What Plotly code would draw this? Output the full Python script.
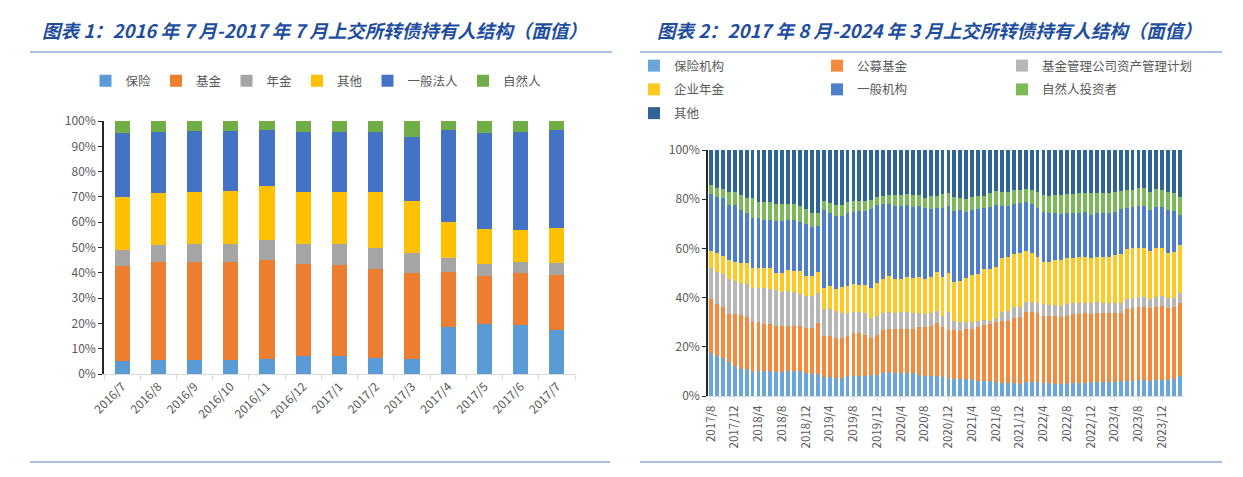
import plotly.graph_objects as go

# The page body adds an 8px margin, so the figure is laid out in a
# slightly smaller box and positions are converted from window pixels.
OFF = 8
W, H = 1243 - 2 * OFF, 477 - 2 * OFF


def px(x):
    return (x - OFF) / W


def py(y):
    return 1 - (y - OFF) / H


# ---------------- Left chart data (share of face value, %) ----------------
left_cats = ["2016/7", "2016/8", "2016/9", "2016/10", "2016/11", "2016/12",
             "2017/1", "2017/2", "2017/3", "2017/4", "2017/5", "2017/6", "2017/7"]
left_insurance = [5.3, 5.7, 5.6, 5.6, 6.0, 7.0, 7.3, 6.5, 6.0, 18.5, 19.7, 19.3, 17.3]
left_fund = [37.2, 38.5, 38.7, 38.6, 39.0, 36.5, 35.7, 35.2, 34.0, 21.7, 18.9, 20.5, 21.7]
left_annuity = [6.7, 6.6, 7.1, 7.2, 7.8, 7.9, 8.2, 8.1, 7.8, 5.8, 5.0, 4.4, 4.8]
left_other = [20.8, 20.7, 20.6, 21.1, 21.7, 20.6, 20.8, 22.0, 20.6, 14.0, 13.9, 12.6, 13.8]
left_corporate = [25.2, 24.0, 24.0, 23.5, 22.0, 23.7, 23.6, 23.8, 25.2, 36.3, 37.7, 38.8, 38.7]
left_natural = [4.8, 4.5, 4.0, 4.0, 3.5, 4.3, 4.4, 4.4, 6.4, 3.7, 4.8, 4.4, 3.7]

# ---------------- Right chart data (share of face value, %) ----------------
right_cats = [
    "2017/8", "2017/9", "2017/10", "2017/11", "2017/12",
    "2018/1", "2018/2", "2018/3", "2018/4", "2018/5", "2018/6", "2018/7", "2018/8", "2018/9", "2018/10", "2018/11", "2018/12",
    "2019/1", "2019/2", "2019/3", "2019/4", "2019/5", "2019/6", "2019/7", "2019/8", "2019/9", "2019/10", "2019/11", "2019/12",
    "2020/1", "2020/2", "2020/3", "2020/4", "2020/5", "2020/6", "2020/7", "2020/8", "2020/9", "2020/10", "2020/11", "2020/12",
    "2021/1", "2021/2", "2021/3", "2021/4", "2021/5", "2021/6", "2021/7", "2021/8", "2021/9", "2021/10", "2021/11", "2021/12",
    "2022/1", "2022/2", "2022/3", "2022/4", "2022/5", "2022/6", "2022/7", "2022/8", "2022/9", "2022/10", "2022/11", "2022/12",
    "2023/1", "2023/2", "2023/3", "2023/4", "2023/5", "2023/6", "2023/7", "2023/8", "2023/9", "2023/10", "2023/11", "2023/12",
    "2024/1", "2024/2", "2024/3",
]
right_tick_labels = right_cats[::4]

right_insurance = [17.6, 16.3, 15.6, 14.0, 12.2, 11.0, 10.9, 9.9, 10.0, 10.0,
                   10.0, 9.9, 9.6, 10.2, 10.3, 10.0, 9.2, 8.9, 8.8, 7.9,
                   7.6, 7.5, 7.5, 8.0, 8.0, 8.2, 8.1, 8.4, 8.7, 9.2,
                   9.8, 9.5, 9.3, 9.3, 9.2, 8.5, 8.3, 8.3, 8.3, 7.7,
                   7.3, 7.0, 6.8, 6.8, 6.5, 6.2, 6.1, 6.0, 5.8, 5.4,
                   5.1, 5.1, 5.0, 5.8, 5.6, 5.6, 5.1, 5.1, 5.0, 5.0,
                   5.1, 5.3, 5.3, 5.4, 5.6, 5.6, 5.6, 5.6, 5.6, 6.0,
                   6.0, 6.0, 6.5, 6.5, 6.2, 6.5, 6.5, 6.5, 6.9, 8.1]
right_public_fund = [21.7, 21.0, 20.7, 19.5, 21.1, 21.8, 21.1, 20.1, 20.0, 19.4,
                     19.4, 18.7, 18.7, 18.4, 18.3, 18.5, 18.3, 18.6, 20.9, 16.6,
                     16.8, 15.9, 15.9, 16.3, 17.5, 17.3, 16.8, 15.3, 16.0, 17.5,
                     17.6, 17.9, 18.1, 18.1, 17.9, 19.5, 19.7, 20.3, 21.4, 20.5,
                     19.5, 19.8, 19.8, 20.4, 20.7, 21.7, 22.8, 23.1, 24.4, 25.1,
                     25.4, 26.5, 27.2, 28.2, 28.7, 28.0, 27.6, 27.6, 27.7, 27.2,
                     27.6, 27.9, 28.0, 28.5, 27.6, 28.3, 28.0, 28.0, 28.0, 27.9,
                     29.2, 29.9, 29.8, 29.8, 29.7, 29.8, 30.1, 29.4, 29.1, 29.8]
right_am_plan = [12.7, 13.2, 13.2, 13.9, 13.4, 13.2, 13.5, 14.0, 14.0, 14.6,
                 14.2, 14.6, 14.1, 14.2, 13.8, 13.0, 13.3, 13.2, 12.0, 10.9,
                 10.8, 11.0, 10.5, 9.6, 8.8, 8.6, 8.7, 8.0, 7.8, 6.9,
                 6.6, 6.5, 6.6, 6.7, 6.6, 5.6, 5.2, 5.0, 4.9, 4.3,
                 7.3, 3.7, 3.3, 3.0, 3.0, 2.6, 2.0, 1.4, 1.4, 3.8,
                 4.1, 4.4, 4.1, 4.3, 4.0, 4.3, 4.6, 4.3, 4.3, 4.4,
                 4.6, 4.5, 4.4, 4.0, 4.5, 4.4, 4.1, 4.1, 4.3, 4.0,
                 4.1, 4.1, 4.1, 3.8, 3.5, 4.1, 4.1, 3.8, 4.0, 3.8]
right_annuity = [7.0, 7.5, 7.5, 7.9, 7.6, 8.0, 8.5, 8.0, 8.0, 8.0,
                 8.4, 6.9, 7.5, 8.4, 8.6, 9.5, 8.0, 8.1, 8.8, 8.5,
                 9.7, 9.1, 10.3, 10.7, 11.2, 11.2, 11.4, 12.3, 13.3, 13.8,
                 14.8, 13.5, 13.6, 14.1, 14.4, 14.9, 14.2, 14.9, 15.8, 15.7,
                 15.8, 16.0, 16.8, 17.9, 18.9, 19.0, 20.7, 21.0, 21.0, 21.9,
                 22.0, 21.6, 21.7, 20.6, 19.7, 18.7, 17.3, 17.6, 18.3, 18.7,
                 18.7, 18.5, 18.7, 18.7, 18.3, 18.3, 18.9, 18.9, 19.4, 19.8,
                 20.3, 20.0, 19.9, 20.2, 19.5, 19.9, 19.6, 18.6, 18.4, 19.7]
right_general = [23.0, 23.0, 23.5, 22.5, 23.2, 21.6, 20.5, 20.5, 20.3, 19.4,
                 19.5, 20.9, 21.1, 20.3, 20.4, 19.9, 21.2, 19.8, 18.7, 31.7,
                 29.4, 29.8, 29.1, 29.7, 29.5, 29.8, 30.2, 32.0, 32.0, 30.5,
                 29.2, 30.0, 29.5, 29.3, 28.9, 28.7, 28.9, 27.5, 25.9, 28.4,
                 27.5, 28.7, 28.8, 26.6, 26.5, 26.4, 24.7, 25.5, 25.0, 21.2,
                 20.8, 20.4, 20.3, 20.1, 20.0, 19.7, 20.3, 19.7, 19.0, 18.7,
                 18.3, 18.1, 18.1, 18.1, 17.7, 17.9, 17.9, 17.9, 17.6, 18.2,
                 17.0, 17.0, 17.1, 17.1, 16.7, 16.7, 16.7, 17.3, 16.9, 12.2]
right_natural = [3.6, 3.7, 3.5, 5.2, 5.5, 6.1, 6.1, 8.1, 6.7, 7.5,
                 7.5, 7.0, 7.0, 6.5, 6.6, 6.5, 5.9, 5.7, 5.1, 3.7,
                 4.0, 4.3, 4.3, 4.4, 4.3, 4.2, 4.1, 3.7, 3.2, 3.4,
                 3.6, 4.3, 4.6, 4.5, 4.6, 4.4, 4.2, 5.3, 5.1, 5.5,
                 5.3, 5.7, 5.1, 5.4, 5.4, 5.5, 5.1, 5.7, 5.7, 5.6,
                 5.6, 5.7, 5.4, 5.0, 5.7, 6.5, 6.8, 7.1, 7.4, 7.7,
                 7.8, 7.8, 7.9, 8.0, 8.7, 7.9, 7.9, 7.9, 8.1, 7.6,
                 7.1, 6.7, 7.0, 7.0, 7.2, 7.1, 6.7, 7.2, 7.4, 7.2]
right_other = [14.4, 15.3, 16.0, 17.0, 17.0, 18.3, 19.4, 19.4, 21.0, 21.1,
               21.0, 22.0, 22.0, 22.0, 22.0, 22.6, 24.1, 25.7, 25.7, 20.7,
               21.7, 22.4, 22.4, 21.3, 20.7, 20.7, 20.7, 20.3, 19.0, 18.7,
               18.4, 18.3, 18.3, 18.0, 18.4, 18.4, 19.5, 18.7, 18.6, 17.9,
               17.3, 19.1, 19.4, 19.9, 19.0, 18.6, 18.6, 17.3, 16.7, 17.0,
               17.0, 16.3, 16.3, 16.0, 16.3, 17.2, 18.3, 18.6, 18.3, 18.3,
               17.9, 17.9, 17.6, 17.3, 17.6, 17.6, 17.6, 17.6, 17.0, 16.5,
               16.3, 16.3, 15.6, 15.6, 17.2, 15.9, 16.3, 17.2, 17.3, 19.2]

left_series = [
    ("保险", left_insurance, "#5B9BD5"),
    ("基金", left_fund, "#ED7D31"),
    ("年金", left_annuity, "#A5A5A5"),
    ("其他", left_other, "#FFC000"),
    ("一般法人", left_corporate, "#4472C4"),
    ("自然人", left_natural, "#70AD47"),
]
right_series = [
    ("保险机构", right_insurance, "#6AA6DC", "legend2"),
    ("公募基金", right_public_fund, "#F5893C", "legend3"),
    ("基金管理公司资产管理计划", right_am_plan, "#B7B7B7", "legend4"),
    ("企业年金", right_annuity, "#FFC924", "legend2"),
    ("一般机构", right_general, "#4F7ECC", "legend3"),
    ("自然人投资者", right_natural, "#7DB958", "legend4"),
    ("其他", right_other, "#2F6497", "legend2"),
]

FONT = "Noto Sans CJK SC, Microsoft YaHei, sans-serif"
GRAY = "#595959"

fig = go.Figure()
for name, vals, color in left_series:
    fig.add_trace(go.Bar(x=left_cats, y=vals, name=name, marker_color=color,
                         marker_line_width=0, width=0.42, xaxis="x", yaxis="y",
                         legend="legend"))
for name, vals, color, leg in right_series:
    fig.add_trace(go.Bar(x=right_cats, y=vals, name=name, marker_color=color,
                         marker_line_width=0, width=0.66, xaxis="x2", yaxis="y2",
                         legend=leg, legendgroup=name))

tickfont = dict(family=FONT, size=12, color=GRAY)
legfont = dict(family=FONT, size=12.5, color=GRAY)

fig.update_layout(
    width=W, height=H,
    margin=dict(l=0, r=0, t=0, b=0, autoexpand=False),
    paper_bgcolor="white", plot_bgcolor="white",
    barmode="stack",
    font=dict(family=FONT, color=GRAY),
    xaxis=dict(domain=[px(104), px(575)], type="category", showgrid=False,
               showline=True, linecolor="#D9D9D9", linewidth=1,
               ticks="outside", tickson="boundaries", ticklen=5, tickcolor="#D9D9D9",
               tickangle=-45, tickfont=tickfont, anchor="y"),
    yaxis=dict(domain=[py(374), py(121)], range=[0, 100], dtick=10,
               ticksuffix="%", showgrid=False, showline=True, linecolor="#262626",
               linewidth=1.5, ticks="outside", ticklen=4, tickcolor="#262626",
               tickfont=tickfont, anchor="x", zeroline=False),
    xaxis2=dict(domain=[px(708), px(1183)], type="category", showgrid=False,
                showline=True, linecolor="#D9D9D9", linewidth=1,
                tickmode="array", tickvals=right_tick_labels, ticktext=right_tick_labels,
                ticks="outside", ticklen=4, tickcolor="#D9D9D9",
                tickangle=-90, tickfont=dict(family=FONT, size=11.5, color=GRAY),
                anchor="y2"),
    yaxis2=dict(domain=[py(396), py(150)], range=[0, 100], dtick=20,
                ticksuffix="%", showgrid=False, showline=True, linecolor="#262626",
                linewidth=1.5, ticks="outside", ticklen=4, tickcolor="#262626",
                tickfont=tickfont, anchor="x2", zeroline=False),
    legend=dict(orientation="h", x=px(316), xanchor="center", y=py(81), yanchor="middle",
                font=legfont, traceorder="normal", bgcolor="rgba(0,0,0,0)",
                itemclick=False, itemdoubleclick=False),
    legend2=dict(orientation="v", x=px(634), xanchor="left", y=py(51), yanchor="top",
                 font=legfont, traceorder="grouped", tracegroupgap=4.5,
                 bgcolor="rgba(0,0,0,0)"),
    legend3=dict(orientation="v", x=px(817), xanchor="left", y=py(51), yanchor="top",
                 font=legfont, traceorder="grouped", tracegroupgap=4.5,
                 bgcolor="rgba(0,0,0,0)"),
    legend4=dict(orientation="v", x=px(1002), xanchor="left", y=py(51), yanchor="top",
                 font=legfont, traceorder="grouped", tracegroupgap=4.5,
                 bgcolor="rgba(0,0,0,0)"),
    showlegend=True,
)

title_font = dict(family=FONT, size=18.5, color="#1F4E9F", weight="bold", style="italic")
fig.add_annotation(text="图表 1：2016 年 7 月-2017 年 7 月上交所转债持有人结构（面值）",
                   x=px(40), y=py(30), xref="paper", yref="paper",
                   xanchor="left", yanchor="middle", showarrow=False, font=title_font)
fig.add_annotation(text="图表 2：2017 年 8 月-2024 年 3 月上交所转债持有人结构（面值）",
                   x=px(655), y=py(30), xref="paper", yref="paper",
                   xanchor="left", yanchor="middle", showarrow=False, font=title_font)

line_style = dict(color="#8EAADB", width=1.5)
for x0, x1, y in [(30, 612, 52), (640, 1222, 52), (30, 610, 462), (640, 1222, 462)]:
    fig.add_shape(type="line", xref="paper", yref="paper",
                  x0=px(x0), x1=px(x1), y0=py(y), y1=py(y), line=line_style)

fig.write_html("out.html")
